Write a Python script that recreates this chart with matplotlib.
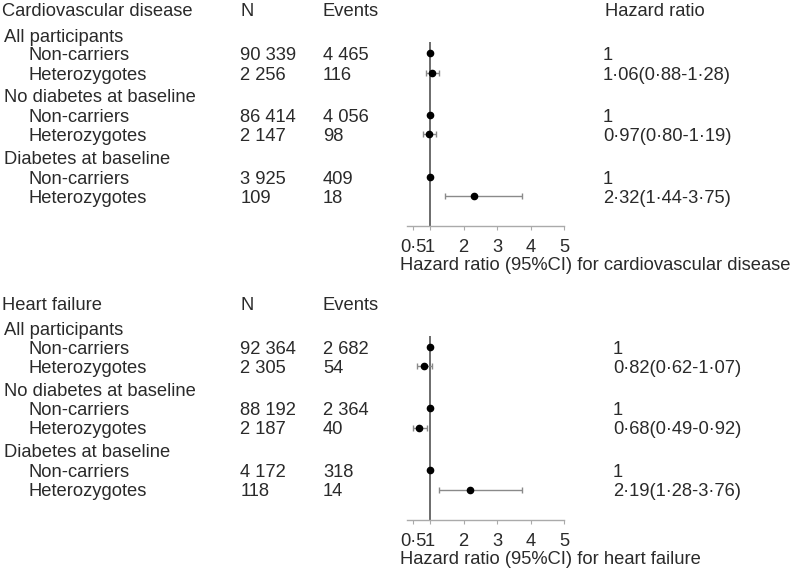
import matplotlib
matplotlib.use("Agg")
import matplotlib.pyplot as plt

plt.rcParams['font.family'] = ['Liberation Sans', 'DejaVu Sans']

groups = ["All participants", "No diabetes at baseline", "Diabetes at baseline"]
subgroups = ["Non-carriers", "Heterozygotes"]

cvd_n = [90339, 2256, 86414, 2147, 3925, 109]
cvd_events = [4465, 116, 4056, 98, 409, 18]
cvd_hr = [1, 1.06, 1, 0.97, 1, 2.32]
cvd_lo = [None, 0.88, None, 0.80, None, 1.44]
cvd_hi = [None, 1.28, None, 1.19, None, 3.75]

hf_n = [92364, 2305, 88192, 2187, 4172, 118]
hf_events = [2682, 54, 2364, 40, 318, 14]
hf_hr = [1, 0.82, 1, 0.68, 1, 2.19]
hf_lo = [None, 0.62, None, 0.49, None, 1.28]
hf_hi = [None, 1.07, None, 0.92, None, 3.76]

tick_vals = [0.5, 1, 2, 3, 4, 5]
tick_labels = ["0·5", "1", "2", "3", "4", "5"]

W, H = 790, 573
TXT = '#2a2a2a'
FS = 13.2
DY = 2.5  # text baseline nudge (px)

fig = plt.figure(figsize=(W / 100, H / 100), dpi=100)
base = fig.add_axes([0, 0, 1, 1])
base.set_xlim(0, W)
base.set_ylim(H, 0)
base.axis('off')

# vertical offsets (px) of the lines below the panel header
row_off = [25, 43.5, 63, 85.5, 105, 124.5, 147, 167, 186.5]


def fmt_n(v):
    return f"{v:,}".replace(",", " ")


def fmt_hr(h, lo, hi):
    if lo is None:
        return "1"
    return f"{h:.2f}({lo:.2f}-{hi:.2f})".replace(".", "·")


def put(x, y, s):
    base.text(x, y + DY, s, fontsize=FS, color=TXT, va='center')


def draw_panel(y0, title, n, ev, hr, lo, hi, hr_x, xlabel, hr_head):
    put(2, y0, title)
    put(241, y0, "N")
    put(323, y0, "Events")
    if hr_head:
        put(605, y0, "Hazard ratio")

    ys = []
    for g in range(3):
        put(4, y0 + row_off[g * 3], groups[g])
        for s in range(2):
            i = g * 2 + s
            y = y0 + row_off[g * 3 + 1 + s]
            ys.append(y)
            put(29, y, subgroups[s])
            put(240.5, y, fmt_n(n[i]))
            put(323, y, fmt_n(ev[i]))
            put(hr_x, y, fmt_hr(hr[i], lo[i], hi[i]))

    ax_top, ax_bot = y0 + 32.5, y0 + 216.5
    left_px, right_px = 406.7, 564
    ax = fig.add_axes([left_px / W, 1 - ax_bot / H,
                       (right_px - left_px) / W, (ax_bot - ax_top) / H])
    ax.set_xlim(0.3, 5)
    ax.set_ylim(ax_bot, ax_top)
    ax.patch.set_alpha(0)
    ax.axvline(1, color='#444444', lw=1.1, zorder=1)
    for i in range(6):
        if lo[i] is not None:
            ax.errorbar(hr[i], ys[i], xerr=[[hr[i] - lo[i]], [hi[i] - hr[i]]],
                        fmt='none', ecolor='#8a8a8a', elinewidth=1,
                        capsize=2.2, capthick=1, zorder=2)
        ax.plot(hr[i], ys[i], 'o', color='black', markersize=4.5, zorder=3)
    for sp in ['left', 'top', 'right']:
        ax.spines[sp].set_visible(False)
    ax.spines['bottom'].set_color('#aaaaaa')
    ax.spines['bottom'].set_linewidth(1)
    ax.set_yticks([])
    ax.set_xticks(tick_vals)
    ax.set_xticklabels(tick_labels)
    ax.tick_params(axis='x', length=3, color='#aaaaaa', pad=6.5,
                   labelsize=FS, labelcolor=TXT)
    put(400, y0 + 253.5, xlabel)


draw_panel(9.5, "Cardiovascular disease", cvd_n, cvd_events, cvd_hr, cvd_lo,
           cvd_hi, 603, "Hazard ratio (95%CI) for cardiovascular disease", True)
draw_panel(303, "Heart failure", hf_n, hf_events, hf_hr, hf_lo, hf_hi, 613,
           "Hazard ratio (95%CI) for heart failure", False)

fig.savefig("out.png", dpi=100)
